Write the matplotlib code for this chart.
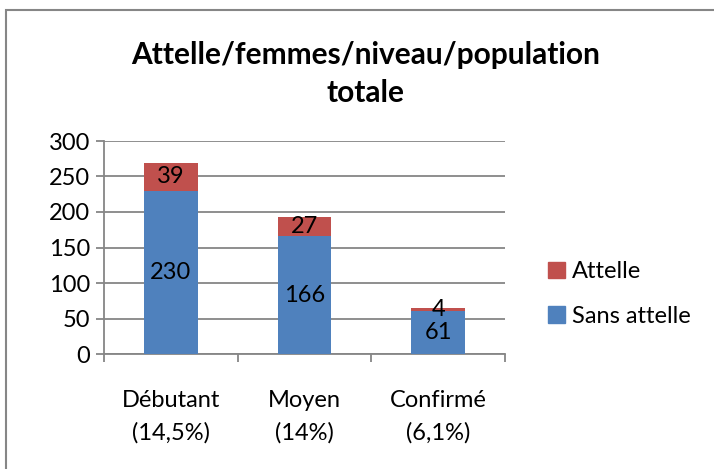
import matplotlib
matplotlib.use("Agg")
from matplotlib import pyplot as plt
from matplotlib.patches import Rectangle, Patch

plt.rcParams['font.family'] = ['Lato', 'DejaVu Sans']

niveaux = ["Débutant\n(14,5%)", "Moyen\n(14%)", "Confirmé\n(6,1%)"]
sans_attelle = [230, 166, 61]
attelle = [39, 27, 4]

bleu = "#4F81BD"
rouge = "#C0504D"
gris = "#868686"
fs = 17

fig = plt.figure(figsize=(7.14, 4.69), dpi=100)
ax = fig.add_axes([104/714, 115/469, 401/714, 213/469])

x = list(range(len(niveaux)))
ax.bar(x, sans_attelle, width=0.4, color=bleu, zorder=3)
ax.bar(x, attelle, width=0.4, bottom=sans_attelle, color=rouge, zorder=3)

for i in x:
    ax.text(i, sans_attelle[i] / 2, str(sans_attelle[i]), ha="center", va="center", fontsize=fs, zorder=4)
    ax.text(i, sans_attelle[i] + attelle[i] / 2, str(attelle[i]), ha="center", va="center", fontsize=fs, zorder=4)

ax.set_xlim(-0.5, 2.5)
ax.set_ylim(0, 300)
ax.set_yticks(range(0, 301, 50))
ax.yaxis.grid(True, color=gris, linewidth=1.3, zorder=0)
ax.set_xticks(x)
ax.set_xticklabels(niveaux, fontsize=fs, linespacing=1.65)
ax.set_xticks([-0.5, 0.5, 1.5, 2.5], minor=True)
ax.tick_params(axis="x", which="major", length=0, pad=26)
ax.tick_params(axis="x", which="minor", length=6, color=gris, width=1.3)
ax.tick_params(axis="y", length=6, color=gris, width=1.3, labelsize=fs, pad=4)
for s in ["top", "right"]:
    ax.spines[s].set_visible(False)
for s in ["left", "bottom"]:
    ax.spines[s].set_color(gris)
    ax.spines[s].set_linewidth(1.3)

fig.text(366/714, 1 - 55/469, "Attelle/femmes/niveau/population", ha="center", va="center",
         fontsize=21.5, fontweight="bold")
fig.text(366/714, 1 - 93/469, "totale", ha="center", va="center", fontsize=21.5, fontweight="bold")

handles = [Patch(color=rouge), Patch(color=bleu)]
fig.legend(handles, ["Attelle", "Sans attelle"], loc="center left",
           bbox_to_anchor=(527/714, 1 - 294/469), frameon=False, fontsize=fs,
           handlelength=0.7, handleheight=0.7, handletextpad=0.3, labelspacing=1.0)

fig.patches.append(Rectangle((6/714, -0.1), 1.2, 1 - 10/469 + 0.1, transform=fig.transFigure,
                             fill=False, edgecolor=gris, linewidth=1.5))

fig.savefig("out.png", dpi=100)
